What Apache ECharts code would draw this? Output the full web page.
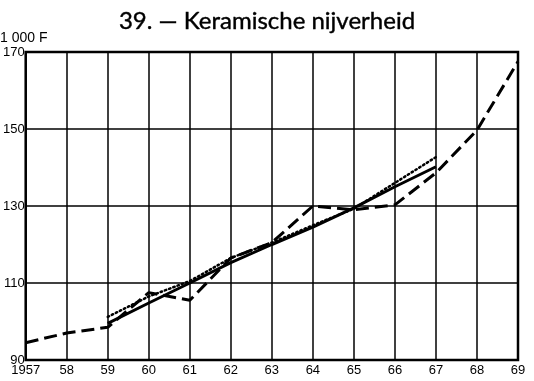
<!DOCTYPE html>
<html>
<head>
<meta charset="utf-8">
<script src="https://cdn.jsdelivr.net/npm/echarts@6/dist/echarts.min.js"></script>
<style>
  html, body { margin: 0; padding: 0; background: #fff; }
  #chart { width: 534px; height: 381px; }
</style>
</head>
<body>
<div id="chart"></div>
<script>
// Keramische nijverheid, in 1 000 F
const yearsAll = [1957, 1958, 1959, 1960, 1961, 1962, 1963, 1964, 1965, 1966, 1967, 1968, 1969];
const yearsShort = [1959, 1960, 1961, 1962, 1963, 1964, 1965, 1966, 1967];
const xTickLabels = ['1957', '58', '59', '60', '61', '62', '63', '64', '65', '66', '67', '68', '69'];
const yTickLabels = ['90', '110', '130', '150', '170'];

const dashedValues = [94.5, 97, 98.5, 107.5, 105.5, 116.5, 120.5, 130, 129, 130.3, 138.6, 149.7, 167.5];
const solidValues = [99.5, 104.8, 110, 115.3, 120, 124.5, 129.5, 135, 140.2];
const dottedValues = [101.2, 106.5, 110.5, 116.5, 120.5, 125, 129.3, 136, 142.7];

const pairs = (xs, ys) => xs.map((x, i) => [x, ys[i]]);

const chart = echarts.init(document.getElementById('chart'), null, { renderer: 'canvas' });
const font = 'Liberation Sans, Arial, sans-serif';

chart.setOption({
  animation: false,
  backgroundColor: '#fff',
  title: {
    text: '39. — Keramische nijverheid',
    left: 'center',
    top: 4,
    textStyle: {
      fontFamily: 'Lato, Open Sans, sans-serif', fontSize: 24, fontWeight: 'normal', color: '#000',
      textBorderColor: '#000', textBorderWidth: 0.4
    }
  },
  graphic: [{
    type: 'text',
    left: 0,
    top: 31,
    style: { text: '1 000 F', fontFamily: font, fontSize: 14, fill: '#000' }
  }],
  grid: {
    left: 21, right: 16, top: 52, bottom: 21,
    show: true, borderColor: '#000', borderWidth: 2.5, containLabel: false
  },
  xAxis: {
    type: 'value', min: 1957, max: 1969, interval: 1,
    axisLine: { show: false }, axisTick: { show: false },
    splitLine: { show: true, lineStyle: { color: '#000', width: 1.5 } },
    axisLabel: {
      margin: 4, color: '#000', fontFamily: font, fontSize: 13,
      formatter: v => xTickLabels[yearsAll.indexOf(v)] || ''
    }
  },
  yAxis: {
    type: 'value', min: 90, max: 170, interval: 20,
    axisLine: { show: false }, axisTick: { show: false },
    splitLine: { show: true, lineStyle: { color: '#000', width: 1.5 } },
    axisLabel: {
      margin: 1, color: '#000', fontFamily: font, fontSize: 13,
      formatter: v => yTickLabels[(v - 90) / 20] || ''
    }
  },
  series: [
    {
      type: 'line', data: pairs(yearsAll, dashedValues), showSymbol: false,
      lineStyle: { color: '#000', width: 3, type: [13, 6] }
    },
    {
      type: 'line', data: pairs(yearsShort, solidValues), showSymbol: false,
      lineStyle: { color: '#000', width: 3 }
    },
    {
      type: 'line', data: pairs(yearsShort, dottedValues), showSymbol: false,
      lineStyle: { color: '#000', width: 2.5, type: [1.5, 3], cap: 'round' }
    }
  ]
});
</script>
</body>
</html>
